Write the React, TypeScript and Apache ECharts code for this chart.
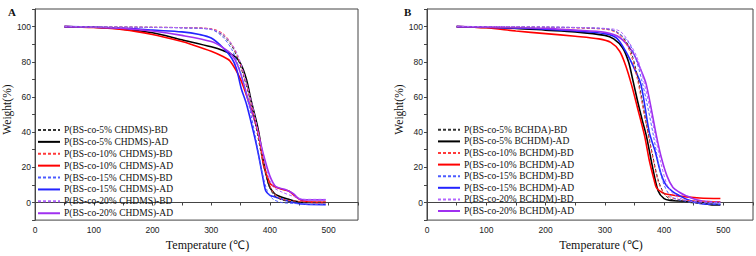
import React, { useEffect, useRef } from "react";
import * as echarts from "echarts";

// Panel A (CHDMS) — [temperature °C, weight %]
const a5BD = [[50,100],[100,99.8],[200,99.6],[250,99.4],[300,98.5],[320,95],[335,89],[345,82],[355,72],[365,60],[375,45],[385,28],[395,13],[405,5],[420,1.5],[440,0.5],[460,0],[495,0]];
const a5AD = [[50,100],[100,99.6],[150,98.5],[200,96.5],[250,92.5],[300,88.5],[320,86.4],[338,83.6],[350,79],[360,70],[368,58],[380,41.5],[390,22],[399,9.2],[408,5],[416,3.6],[430,2],[444,0.7],[460,0],[495,0]];
const a10BD = [[50,100],[100,99.8],[200,99.6],[250,99.4],[300,98.8],[320,96],[335,90],[345,83],[355,73],[365,61],[375,46],[385,30],[395,15],[405,6],[420,2],[440,1],[460,0.5],[495,0.5]];
const a10AD = [[50,100],[100,99.5],[150,98.3],[200,95.5],[250,91.5],[265,90],[300,86],[320,83],[332,80.5],[350,70],[365,56],[380,40],[385,30],[390,20],[400,11],[405,9.5],[420,7.5],[432,6.5],[445,3],[455,1],[470,0.2],[495,0]];
const a15BD = [[50,100],[100,99.8],[200,99.5],[250,99.2],[300,98.3],[320,94],[335,87],[345,79],[355,68],[365,54],[375,38],[385,20],[395,7],[405,2],[420,0],[440,-0.5],[460,-1],[495,-1.2]];
const a15AD = [[50,100],[100,99.7],[150,99.2],[200,98],[250,97],[280,95.5],[300,93.5],[320,88],[335,82],[343,76],[351,65],[360,56],[372,40],[380,28],[388,14],[393,6.5],[400,4],[405,3.5],[420,2],[440,0],[460,-1],[495,-1.2]];
const a20BD = [[50,100],[100,99.8],[200,99.6],[250,99.4],[300,98.6],[320,95.5],[335,90],[345,84],[355,74],[365,62],[375,48],[385,32],[395,18],[405,9],[420,6],[440,3.5],[460,1.8],[495,1.8]];
const a20AD = [[50,100],[100,99.6],[150,99],[200,97.5],[250,95],[300,91.5],[320,88],[335,84],[345,78],[355,68],[365,56],[378,42],[390,26],[400,15],[410,9],[425,7.5],[440,5],[450,2],[460,1.5],[495,1.5]];

// Panel B (BCHDM)
const b5BD = [[50,100],[200,99.7],[300,98.8],[320,97],[335,92],[345,85],[355,72],[362,60],[370,45],[380,28],[390,13],[400,5],[410,2],[430,0.5],[460,-0.5],[495,-1]];
const b5AD = [[50,100],[100,99.5],[150,99],[200,98],[250,97],[300,95],[315,93],[330,88],[340,80],[347,70],[355,58],[363,47],[370,38],[380,21],[390,6.6],[400,2.2],[410,1.2],[430,0.8],[456,0.4],[478,-1.2],[495,-1.4]];
const b10BD = [[50,100],[200,99.6],[300,98.5],[320,96.5],[335,91],[345,83],[355,70],[362,58],[370,44],[380,27],[390,12],[400,5],[410,3],[430,1.5],[460,0.8],[495,0.5]];
const b10AD = [[50,100],[100,99.3],[150,97.5],[200,96],[250,94.5],[290,93],[310,91],[325,86],[335,78],[345,67],[355,54],[367,38],[375,24],[383,13],[387,8.5],[395,6],[403,4.8],[430,3.5],[460,2.6],[495,2.3]];
const b15BD = [[50,100],[200,99.7],[300,98.8],[320,97],[340,91],[352,82],[362,70],[372,55],[382,38],[392,20],[400,10],[410,4],[420,2],[440,0.5],[460,-0.5],[495,-0.8]];
const b15AD = [[50,100],[100,99.6],[150,99.2],[200,98.5],[250,97.5],[300,96],[320,93.5],[336,85.5],[350,76],[361,67],[375,40],[385,29],[395,16],[403,10],[415,6],[426,3.9],[440,1.5],[460,-0.5],[480,-1],[495,-1.1]];
const b20BD = [[50,100],[200,99.8],[300,99],[325,97.5],[341,91],[355,82],[365,70],[375,55],[385,38],[395,22],[405,10],[415,5],[430,2],[450,0.5],[495,0]];
const b20AD = [[50,100],[100,99.7],[150,99.4],[200,99],[250,98],[300,96.7],[325,93.8],[347,85.5],[360,76],[370,67],[387,38],[395,26],[405,15],[415,8.5],[425,6],[437,3.9],[455,1.5],[475,0.5],[495,0.4]];

const namesA = [
  "P(BS-co-5% CHDMS)-BD", "P(BS-co-5% CHDMS)-AD",
  "P(BS-co-10% CHDMS)-BD", "P(BS-co-10% CHDMS)-AD",
  "P(BS-co-15% CHDMS)-BD", "P(BS-co-15% CHDMS)-AD",
  "P(BS-co-20% CHDMS)-BD", "P(BS-co-20% CHDMS)-AD",
];
const namesB = [
  "P(BS-co-5% BCHDA)-BD", "P(BS-co-5% BCHDM)-AD",
  "P(BS-co-10% BCHDM)-BD", "P(BS-co-10% BCHDM)-AD",
  "P(BS-co-15% BCHDM)-BD", "P(BS-co-15% BCHDM)-AD",
  "P(BS-co-20% BCHDM)-BD", "P(BS-co-20% BCHDM)-AD",
];
const dataA = [a5BD, a5AD, a10BD, a10AD, a15BD, a15AD, a20BD, a20AD];
const dataB = [b5BD, b5AD, b10BD, b10AD, b15BD, b15AD, b20BD, b20AD];

const solidColors = ["#000000", "#ff0000", "#2424ff", "#a030f0"];
const dashColors = ["#333333", "#ff3a3a", "#4d5cff", "#b366ff"];

const serif = "'Liberation Serif', 'Times New Roman', serif";
const sans = "'Liberation Sans', Arial, sans-serif";

function makeSeries(names: string[], data: number[][][], gi: number) {
  return names.map((name, i) => {
    const k = Math.floor(i / 2);
    const dashed = i % 2 === 0;
    return {
      type: "line",
      name,
      xAxisIndex: gi,
      yAxisIndex: gi,
      data: data[i],
      symbol: "none",
      smooth: 0.3,
      z: dashed ? 3 : 2,
      lineStyle: {
        color: dashed ? dashColors[k] : solidColors[k],
        width: dashed ? 1 : 1.6,
        type: dashed ? [3, 2] : "solid",
      },
      itemStyle: { color: dashed ? dashColors[k] : solidColors[k] },
    };
  });
}

function xAxis(gi: number) {
  return {
    type: "value",
    gridIndex: gi,
    min: 0,
    max: 550,
    interval: 50,
    name: "Temperature (\u2103)",
    nameLocation: "middle",
    nameGap: 18,
    nameTextStyle: { fontFamily: serif, fontSize: 12, color: "#111", padding: [0, 0, 0, 22] },
    axisLine: { show: true, lineStyle: { color: "#444", width: 1 } },
    axisTick: { show: true, length: 3, lineStyle: { color: "#444" } },
    splitLine: { show: false },
    axisLabel: {
      fontFamily: sans,
      fontSize: 8.5,
      color: "#222",
      margin: 5,
      formatter: (v: number) => (v % 100 === 0 && v <= 500 ? String(v) : ""),
    },
  };
}

function yAxis(gi: number) {
  return {
    type: "value",
    gridIndex: gi,
    min: -10,
    max: 110,
    interval: 10,
    name: "Weight(%)",
    nameLocation: "middle",
    nameGap: 21,
    nameTextStyle: { fontFamily: serif, fontSize: 11.5, color: "#111", padding: [0, 0, 0, 10] },
    axisLine: { show: true, lineStyle: { color: "#444", width: 1 } },
    axisTick: { show: true, length: 3, lineStyle: { color: "#444" } },
    splitLine: { show: false },
    axisLabel: {
      fontFamily: sans,
      fontSize: 8.5,
      color: "#222",
      margin: 4,
      formatter: (v: number) => (v % 20 === 0 && v >= 0 && v <= 100 ? String(v) : ""),
    },
  };
}

function legend(names: string[], left: number, top: number, lh: number) {
  return {
    orient: "vertical",
    left,
    top,
    data: names,
    itemWidth: 22,
    itemHeight: 8,
    itemGap: 0,
    padding: 0,
    itemStyle: { opacity: 0, borderWidth: 0 },
    textStyle: { fontFamily: serif, fontSize: 9.5, color: "#111", lineHeight: lh, padding: [0, 0, 0, -1] },
  };
}

export default function App() {
  const ref = useRef<HTMLDivElement>(null);
  useEffect(() => {
    if (!ref.current) return;
    const chart = echarts.init(ref.current, undefined, { renderer: "svg" });
    chart.setOption({
      animation: false,
      backgroundColor: "#ffffff",
      title: [
        { text: "A", left: 3, top: 1, textStyle: { fontFamily: serif, fontSize: 11, fontWeight: "bold", color: "#111" } },
        { text: "B", left: 399, top: 1, textStyle: { fontFamily: serif, fontSize: 11, fontWeight: "bold", color: "#111" } },
      ],
      grid: [
        { left: 28, top: 9, width: 330, height: 218, show: true, borderColor: "#444", borderWidth: 1, backgroundColor: "transparent" },
        { left: 427, top: 9, width: 327, height: 218, show: true, borderColor: "#444", borderWidth: 1, backgroundColor: "transparent" },
      ],
      xAxis: [xAxis(0), xAxis(1)],
      yAxis: [yAxis(0), yAxis(1)],
      legend: [legend(namesA, 37, 124, 11.9), legend(namesB, 437, 124, 11.6)],
      series: [...makeSeries(namesA, dataA, 0), ...makeSeries(namesB, dataB, 1)],
    });
    return () => chart.dispose();
  }, []);
  return <div ref={ref} style={{ position: "fixed", left: 0, top: 0, width: 756, height: 256 }} />;
}
